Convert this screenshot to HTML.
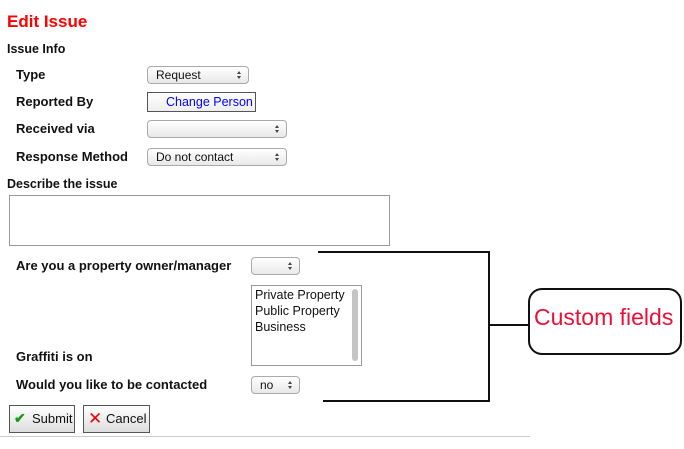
<!DOCTYPE html>
<html><head><meta charset="utf-8"><style>
*{margin:0;padding:0;box-sizing:border-box}
body{width:684px;height:449px;background:#fff;position:relative;font-family:"Liberation Sans",Arial,sans-serif;overflow:hidden}
.a{position:absolute;white-space:nowrap}
.lb{font-weight:bold;font-size:13px;color:#111}
.sel{position:absolute;border:1px solid #aaa;border-radius:4px;background:linear-gradient(#fff,#e8e8e8);font-size:12px;color:#111;padding-left:8px;line-height:16px}
.sel:after{content:"";position:absolute;right:7px;top:4px;width:0;height:0;border-left:2px solid transparent;border-right:2px solid transparent;border-bottom:3px solid #444}
.sel:before{content:"";position:absolute;right:7px;top:9px;width:0;height:0;border-left:2px solid transparent;border-right:2px solid transparent;border-top:3px solid #444}
.btn{position:absolute;border:1px solid #555;background:linear-gradient(#fff,#ddd);font-size:13px;color:#111;line-height:25px}
.ln{position:absolute;background:#111}
</style></head><body>
<div class="a" style="left:7px;top:12px;font-size:17px;font-weight:bold;color:#f00">Edit Issue</div>
<div class="a lb" style="left:7px;top:42px;font-size:12.5px">Issue Info</div>
<div class="a lb" style="left:16px;top:67px">Type</div>
<div class="a lb" style="left:16px;top:94px">Reported By</div>
<div class="a lb" style="left:16px;top:121px">Received via</div>
<div class="a lb" style="left:16px;top:149px">Response Method</div>
<div class="sel" style="left:147px;top:66px;width:102px;height:18px">Request</div>
<div class="a" style="left:147px;top:92px;width:109px;height:20px;border:1px solid #555;background:linear-gradient(#fff,#eee);color:#00f;font-size:12.5px;padding-left:18px;line-height:18px">Change Person</div>
<div class="sel" style="left:147px;top:120px;width:140px;height:18px"></div>
<div class="sel" style="left:147px;top:148px;width:140px;height:18px">Do not contact</div>
<div class="a lb" style="left:7px;top:177px;font-size:12.5px">Describe the issue</div>
<div class="a" style="left:9px;top:195px;width:381px;height:51px;border:1px solid #999"></div>
<div class="a lb" style="left:16px;top:258px">Are you a property owner/manager</div>
<div class="sel" style="left:251px;top:257px;width:49px;height:18px"></div>
<div class="a" style="left:251px;top:285px;width:111px;height:81px;border:1px solid #999;font-size:12.5px;color:#111;line-height:16px;padding:1px 0 0 3px">Private Property<br>Public Property<br>Business
<div style="position:absolute;right:3px;top:3px;width:6px;height:72px;border-radius:3px;background:#c4c4c4"></div></div>
<div class="a lb" style="left:16px;top:349px">Graffiti is on</div>
<div class="a lb" style="left:16px;top:377px">Would you like to be contacted</div>
<div class="sel" style="left:251px;top:376px;width:49px;height:18px">no</div>
<div class="btn" style="left:9px;top:405px;width:66px;height:28px;padding-left:22px">Submit<span style="position:absolute;left:4px;top:0;color:#1a9a1a;font-size:14px;font-weight:bold">✔</span></div>
<div class="btn" style="left:83px;top:405px;width:67px;height:28px;padding-left:22px">Cancel<span style="position:absolute;left:4px;top:0;color:#e00;font-size:17px">✕</span></div>
<div class="a" style="left:0;top:436px;width:530px;height:1px;background:#ccc"></div>
<div class="ln" style="left:318px;top:251px;width:171px;height:2px"></div>
<div class="ln" style="left:488px;top:251px;width:2px;height:151px"></div>
<div class="ln" style="left:323px;top:400px;width:167px;height:2px"></div>
<div class="ln" style="left:488px;top:324px;width:41px;height:2px"></div>
<div class="a" style="left:528px;top:288px;width:154px;height:67px;border:2px solid #111;border-radius:14px;color:#ec1038;font-size:23px;padding:14px 0 0 4px">Custom fields</div>
</body></html>
